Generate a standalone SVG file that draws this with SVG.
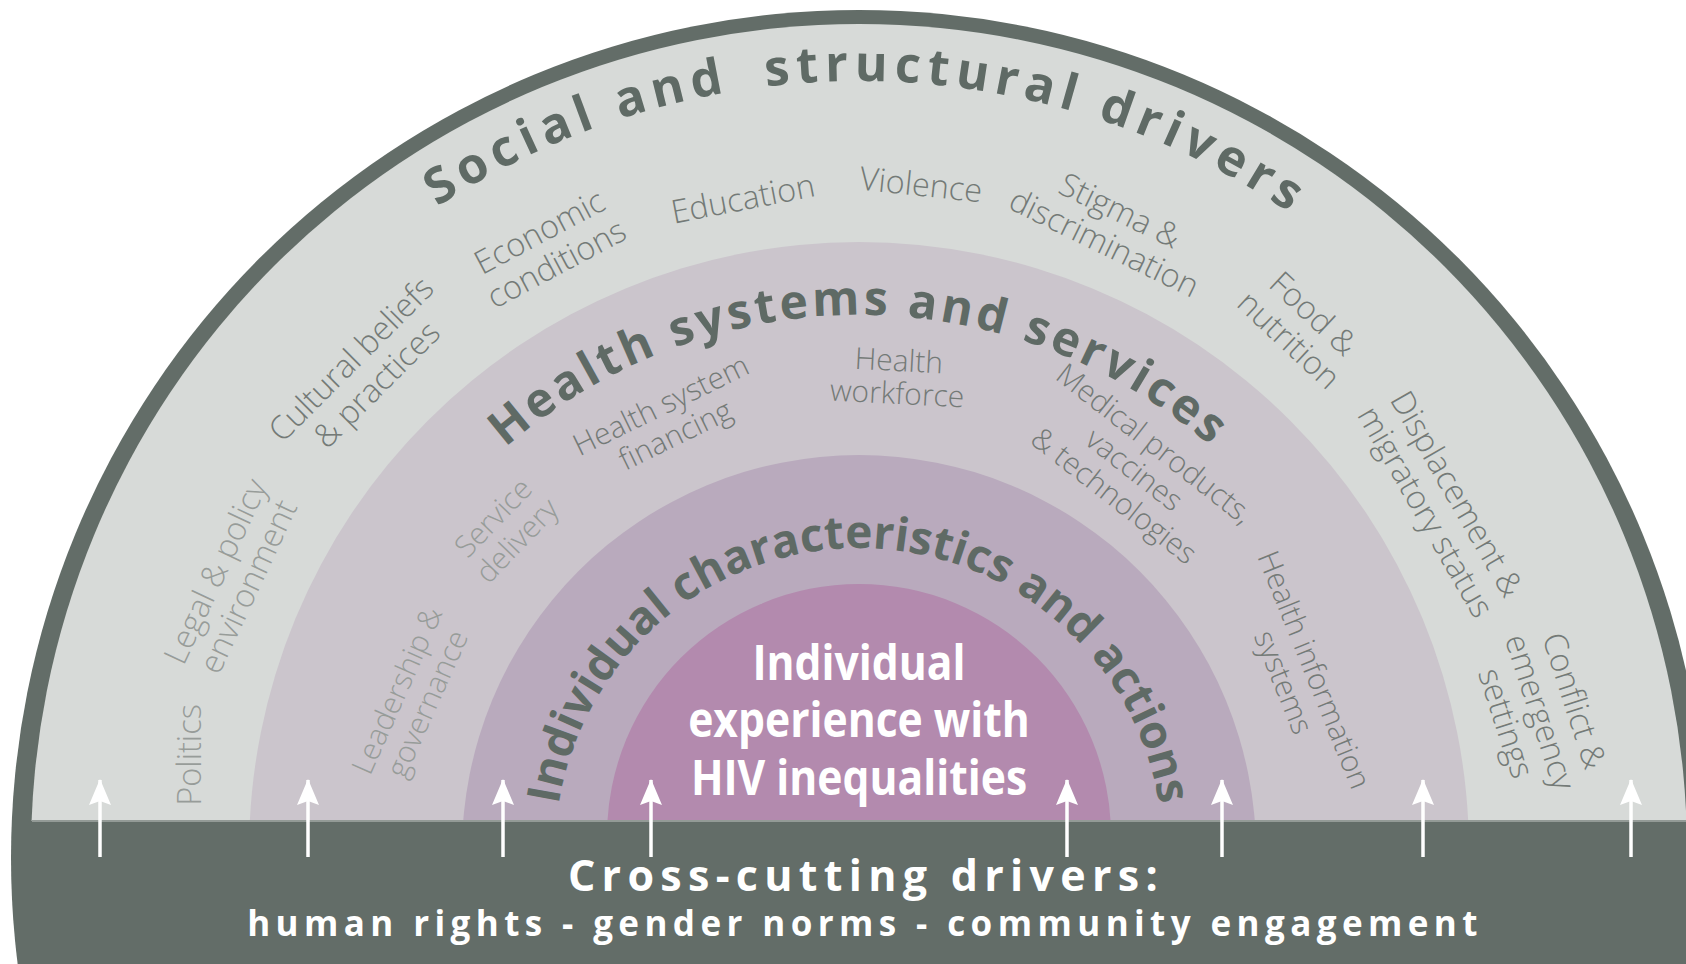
<svg xmlns="http://www.w3.org/2000/svg" width="1686" height="964" viewBox="0 0 1686 964">
  <defs>
    <style>
      .title { font-family: 'Open Sans', 'Liberation Sans', sans-serif; font-weight: 700; fill: #5f6a65; }
      .lbl { font-family: 'Open Sans', 'Liberation Sans', sans-serif; font-weight: 300; font-size: 32.5px; fill: #747a77; text-anchor: middle; }
      .lbl.sm { font-size: 30px; }
      .lbl.pale { fill: #979c99; }
      .white { font-family: 'Open Sans', 'Liberation Sans', sans-serif; font-weight: 700; fill: #ffffff; text-anchor: middle; }
      .arrow { stroke: #ffffff; stroke-width: 3.5; fill: none; marker-end: url(#head); }
    </style>
    <clipPath id="above">
      <rect x="0" y="0" width="1686" height="821"/>
    </clipPath>
    <marker id="head" markerUnits="userSpaceOnUse" markerWidth="26" markerHeight="24" viewBox="0 0 26 24" refX="25" refY="12" orient="auto">
      <path d="M0,1 L26,12 L0,23 L4,12 z" fill="#ffffff"/>
    </marker>
    <path id="arcSocial" d="M 90,850 A 769 769 0 0 1 1628,850"/>
    <path id="arcHealth" d="M 322,852 A 537 537 0 0 1 1396,852"/>
    <path id="arcIndiv" d="M 555,852 A 304 304 0 0 1 1163,852"/>
  </defs>

  <g id="background">
    <circle cx="859" cy="858" r="848" fill="#636d68"/>
    <g clip-path="url(#above)">
      <circle id="ring-social" cx="859" cy="852" r="828" fill="#d7dad8"/>
      <circle id="ring-health" cx="859" cy="852" r="610" fill="#cbc5cc"/>
      <circle id="ring-individual" cx="859" cy="852" r="397" fill="#b9aabd"/>
      <circle id="core" cx="859" cy="836" r="252" fill="#b38aae"/>
    </g>
    <line x1="32" y1="821" x2="1686" y2="821" stroke="#939a96" stroke-width="2"/>
  </g>

  <g id="node-social">
    <text class="title" font-size="50" letter-spacing="6.5"><textPath href="#arcSocial" startOffset="1216" text-anchor="middle">Social and <tspan dx="16">structural drivers</tspan></textPath></text>
    <text class="lbl pale" transform="translate(190,755) rotate(-90)"><tspan x="0" y="11">Politics</tspan></text>
    <text class="lbl pale" transform="translate(232,579) rotate(-65)"><tspan x="0" y="-7">Legal &amp; policy</tspan><tspan x="0" y="29">environment</tspan></text>
    <text class="lbl" transform="translate(364,372) rotate(-45)"><tspan x="0" y="-7">Cultural beliefs</tspan><tspan x="0" y="29">&amp; practices</tspan></text>
    <text class="lbl" transform="translate(548,248) rotate(-28)"><tspan x="0" y="-7">Economic</tspan><tspan x="0" y="29">conditions</tspan></text>
    <text class="lbl" transform="translate(743,199) rotate(-11)"><tspan x="0" y="11">Education</tspan></text>
    <text class="lbl" transform="translate(921,185) rotate(6)"><tspan x="0" y="11">Violence</tspan></text>
    <text class="lbl" transform="translate(1112,227) rotate(26)"><tspan x="0" y="-7">Stigma &amp;</tspan><tspan x="0" y="29">discrimination</tspan></text>
    <text class="lbl" transform="translate(1301,327) rotate(43)"><tspan x="0" y="-7">Food &amp;</tspan><tspan x="0" y="29">nutrition</tspan></text>
    <text class="lbl" transform="translate(1441,503) rotate(60)"><tspan x="0" y="-7">Displacement &amp;</tspan><tspan x="0" y="29">migratory status</tspan></text>
    <text class="lbl" transform="translate(1540,712) rotate(72)"><tspan x="0" y="-25">Conflict &amp;</tspan><tspan x="0" y="11">emergency</tspan><tspan x="0" y="47">settings</tspan></text>
  </g>

  <g id="node-health">
    <text class="title" font-size="48" letter-spacing="3.5"><textPath href="#arcHealth" startOffset="50%" text-anchor="middle">Health systems and services</textPath></text>
    <text class="lbl sm pale" transform="translate(412,697) rotate(-66)"><tspan x="0" y="-6">Leadership &amp;</tspan><tspan x="0" y="27">governance</tspan></text>
    <text class="lbl sm pale" transform="translate(505,529) rotate(-46)"><tspan x="0" y="-6">Service</tspan><tspan x="0" y="27">delivery</tspan></text>
    <text class="lbl sm" transform="translate(668,420) rotate(-26)"><tspan x="0" y="-6">Health system</tspan><tspan x="0" y="27">financing</tspan></text>
    <text class="lbl sm" transform="translate(898,377) rotate(3)"><tspan x="0" y="-6">Health</tspan><tspan x="0" y="27">workforce</tspan></text>
    <text class="lbl sm" transform="translate(1134,470) rotate(38)"><tspan x="0" y="-23">Medical products,</tspan><tspan x="0" y="10">vaccines</tspan><tspan x="0" y="43">&amp; technologies</tspan></text>
    <text class="lbl sm" transform="translate(1299,676) rotate(68)"><tspan x="0" y="-6">Health information</tspan><tspan x="0" y="27">systems</tspan></text>
  </g>

  <g id="node-individual">
    <text class="title" font-size="46" letter-spacing="0"><textPath href="#arcIndiv" startOffset="50%" text-anchor="middle">Individual characteristics and actions</textPath></text>
  </g>

  <g id="node-core">
    <text class="white" font-size="49" transform="translate(859,680) scale(0.87,1)">Individual</text>
    <text class="white" font-size="49" transform="translate(859,737) scale(0.87,1)">experience with</text>
    <text class="white" font-size="49" transform="translate(859,795) scale(0.87,1)">HIV inequalities</text>
  </g>

  <g id="node-crosscutting">
    <text class="white" font-size="43" letter-spacing="6.3" x="866" y="891">Cross-cutting drivers:</text>
    <text class="white" font-size="35" letter-spacing="5.4" x="865" y="936">human rights - gender norms - community engagement</text>
  </g>

  <g id="connectors">
    <line class="arrow" x1="100" y1="857" x2="100" y2="780"/>
    <line class="arrow" x1="308" y1="857" x2="308" y2="780"/>
    <line class="arrow" x1="503" y1="857" x2="503" y2="780"/>
    <line class="arrow" x1="651" y1="857" x2="651" y2="780"/>
    <line class="arrow" x1="1067" y1="857" x2="1067" y2="780"/>
    <line class="arrow" x1="1222" y1="857" x2="1222" y2="780"/>
    <line class="arrow" x1="1423" y1="857" x2="1423" y2="780"/>
    <line class="arrow" x1="1631" y1="857" x2="1631" y2="780"/>
  </g>
</svg>
